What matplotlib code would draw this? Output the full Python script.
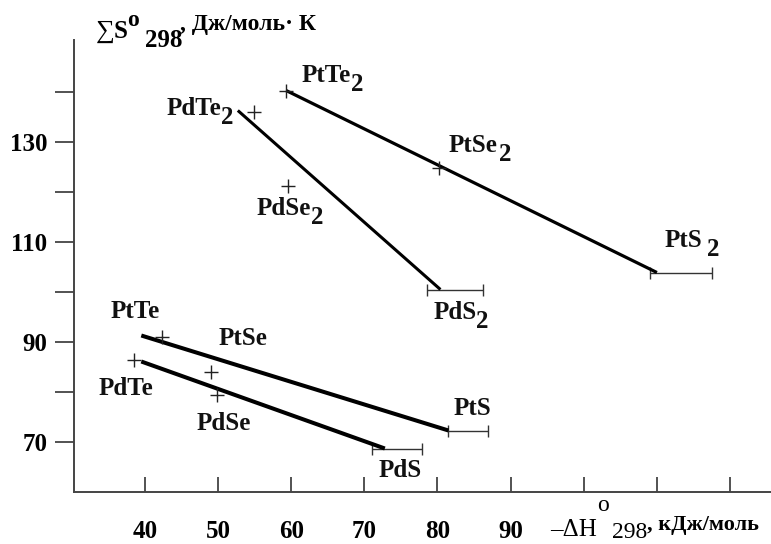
import numpy as np
import matplotlib.pyplot as plt

plt.rcParams['font.family'] = ['Liberation Serif', 'DejaVu Serif']
plt.rcParams['font.weight'] = 'bold'

W, H = 771, 544

# linear fits: (x start, x end), (y start, y end)
fit_pt2_x = [59.3, 110.0]
fit_pt2_y = [140.3, 103.9]
fit_pd2_x = [52.7, 80.4]
fit_pd2_y = [136.3, 100.5]
fit_pt_x = [39.5, 81.5]
fit_pt_y = [91.3, 72.3]
fit_pd_x = [39.5, 72.8]
fit_pd_y = [86.1, 68.7]

# measured points shown with "+"
pts_x = [59.3, 54.9, 59.5, 80.2, 42.4, 38.5, 49.1, 49.9]
pts_y = [140.3, 136.1, 121.2, 124.9, 91.1, 86.5, 84.0, 79.5]

# sulfides: uncertainty range along -dH
err_y = [103.9, 100.5, 72.3, 68.7]
err_lo = [109.1, 78.6, 81.5, 71.1]
err_hi = [117.5, 86.2, 86.9, 77.9]

# labels: base, subscript, x, y (left/baseline)
lab_base = ['PtTe', 'PdTe', 'PdSe', 'PtSe', 'PtS', 'PdS',
            'PtTe', 'PtSe', 'PdTe', 'PdSe', 'PtS', 'PdS']
lab_sub = ['2', '2', '2', '2', '2', '2', '', '', '', '', '', '']
lab_x = [61.4, 42.9, 55.3, 81.5, 111.1, 79.4,
         35.3, 50.1, 33.6, 47.0, 82.2, 71.9]
lab_y = [142.0, 135.4, 115.4, 128.0, 109.0, 94.6,
         94.8, 89.4, 79.4, 72.4, 75.4, 63.0]
lab_gap = [0, 0, 0, 1, 3, 0, 0, 0, 0, 0, 0, 0]

x_ticks = [40, 50, 60, 70, 80, 90, 100, 110, 120]
x_ticklabels = ['40', '50', '60', '70', '80', '90', '', '', '']
y_ticks = [70, 80, 90, 100, 110, 120, 130, 140]
y_ticklabels = ['70', '', '90', '', '110', '', '130', '']

FS = 18


def px(x, y):
    # pixel position from the top-left corner -> figure fraction
    return x / W, 1 - y / H


fig = plt.figure(figsize=(W / 100, H / 100), dpi=100)
ax = fig.add_axes([74 / W, 52 / H, 1 - 74 / W, 452 / H])
ax.set_xlim(30.3, 125.6)
ax.set_ylim(60, 150.4)

# dichalcogenide fits thinner, monochalcogenide fits heavier
for xs, ys, lw in [(fit_pt2_x, fit_pt2_y, 2.3), (fit_pd2_x, fit_pd2_y, 2.2),
                   (fit_pt_x, fit_pt_y, 2.9), (fit_pd_x, fit_pd_y, 2.9)]:
    ax.plot(xs, ys, color='black', lw=lw, solid_capstyle='butt', zorder=3)

ax.plot(pts_x, pts_y, ls='none', marker='+', ms=10, mew=1.0,
        color='#222222', zorder=4)

err_c = [(lo + hi) / 2 for lo, hi in zip(err_lo, err_hi)]
err_w = [(hi - lo) / 2 for lo, hi in zip(err_lo, err_hi)]
ax.errorbar(err_c, err_y, xerr=err_w, fmt='none', ecolor='#333333',
            elinewidth=1.0, capsize=4, capthick=1.0, zorder=2)

for base, sub, x, y, gap in zip(lab_base, lab_sub, lab_x, lab_y, lab_gap):
    t = ax.text(x, y, base, fontsize=FS, fontweight='bold',
                ha='left', va='baseline', color='#111111')
    if sub:
        ax.annotate(sub, xy=(1, 0), xycoords=t, xytext=(gap, -3),
                    textcoords='offset points', fontsize=FS,
                    fontweight='bold', ha='left', va='baseline',
                    color='#111111')

for s in ['top', 'right']:
    ax.spines[s].set_visible(False)
for s in ['left', 'bottom']:
    ax.spines[s].set_color('#444444')
    ax.spines[s].set_linewidth(1.4)

ax.set_xticks(x_ticks)
ax.set_xticklabels(x_ticklabels)
ax.set_yticks(y_ticks)
ax.set_yticklabels(y_ticklabels)
ax.tick_params(axis='x', direction='in', length=11, width=1.3,
               color='#444444', pad=20, labelsize=FS)
ax.tick_params(axis='y', direction='out', length=14, width=1.3,
               color='#444444', pad=5, labelsize=FS)
for lbl in ax.get_xticklabels() + ax.get_yticklabels():
    lbl.set_fontweight('bold')

# y axis title: ΣS°298, Дж/моль·К
fig.text(*px(96, 38), '\u2211', fontsize=19, fontweight='normal',
         va='baseline')
fig.text(*px(114, 38), 'S', fontsize=FS, va='baseline')
fig.text(*px(127, 26), 'o', fontsize=17, va='baseline')
fig.text(*px(145, 47), '298', fontsize=FS, va='baseline')
fig.text(*px(180, 30), ', Дж/моль\u00b7 К', fontsize=17, va='baseline')

# x axis title: -ΔH°298, кДж/моль
fig.text(*px(550, 536), '\u2013\u0394H', fontsize=FS, fontweight='normal',
         va='baseline')
fig.text(*px(597, 511), 'o', fontsize=17, fontweight='normal',
         va='baseline')
fig.text(*px(612, 538), '298', fontsize=17, fontweight='normal',
         va='baseline')
fig.text(*px(647, 530), ', кДж/моль', fontsize=16, va='baseline')

fig.savefig('out.png', dpi=100)
